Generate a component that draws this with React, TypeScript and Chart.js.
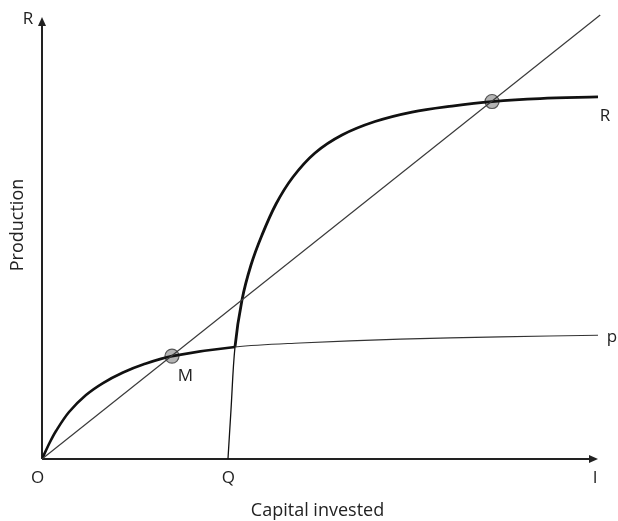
import React, { useEffect, useRef } from "react";
import { Chart, registerables } from "chart.js";

Chart.register(...registerables);

// Data (units: capital invested on x, production on y)
const X_MAX = 100;
const Y_MAX = 80;

const diagX = [0, 100.4];
const diagY = [0, 80];

const pX = [0, 1.44, 2.52, 4.86, 7.91, 10.97, 14.57, 18.17, 23.38, 34.71, 46.4, 64.4, 82.4, 100];
const pY = [0, 3.06, 5.05, 8.47, 11.53, 13.69, 15.59, 17.03, 18.54, 20.18, 20.9, 21.6, 22.0, 22.3];

const rX = [33.45, 33.99, 34.71, 35.97, 37.59, 39.57, 42.09, 45.14, 49.1, 53.96, 59.89, 66.55, 73.74, 80.94, 89.57, 100];
const rY = [0, 8.83, 20.18, 28.65, 34.95, 40.36, 45.95, 50.81, 55.14, 58.38, 60.81, 62.52, 63.6, 64.41, 64.95, 65.23];

const equilibriumX = [23.38, 80.94];
const equilibriumY = [18.54, 64.41];

const SPLIT_X = 34.71; // where the curves change between thin and thick
const Q_X = 33.45;

const FONT = '"Open Sans", sans-serif';

const toPts = (xs: number[], ys: number[]) => xs.map((x, i) => ({ x, y: ys[i] }));

const axesPlugin = {
  id: "axesPlugin",
  beforeDatasetsDraw(chart: any) {
    const { ctx } = chart;
    const xs = chart.scales.x;
    const ys = chart.scales.y;
    const x0 = xs.getPixelForValue(0);
    const y0 = ys.getPixelForValue(0);
    const xEnd = xs.getPixelForValue(X_MAX);
    const yEnd = ys.getPixelForValue(Y_MAX) + 2;
    ctx.save();
    ctx.strokeStyle = "#222";
    ctx.fillStyle = "#222";
    ctx.lineWidth = 2;
    ctx.beginPath();
    ctx.moveTo(x0, y0);
    ctx.lineTo(x0, yEnd + 6);
    ctx.moveTo(x0, y0);
    ctx.lineTo(xEnd - 6, y0);
    ctx.stroke();
    // arrowheads
    ctx.beginPath();
    ctx.moveTo(x0, yEnd);
    ctx.lineTo(x0 - 4, yEnd + 9);
    ctx.lineTo(x0 + 4, yEnd + 9);
    ctx.closePath();
    ctx.fill();
    ctx.beginPath();
    ctx.moveTo(xEnd, y0);
    ctx.lineTo(xEnd - 9, y0 - 4);
    ctx.lineTo(xEnd - 9, y0 + 4);
    ctx.closePath();
    ctx.fill();
    ctx.restore();
  },
  afterDraw(chart: any) {
    const { ctx } = chart;
    const xs = chart.scales.x;
    const ys = chart.scales.y;
    const x0 = xs.getPixelForValue(0);
    const y0 = ys.getPixelForValue(0);
    const xEnd = xs.getPixelForValue(X_MAX);
    const yEnd = ys.getPixelForValue(Y_MAX);
    ctx.save();
    ctx.fillStyle = "#222";
    ctx.font = `17px ${FONT}`;
    ctx.textAlign = "center";
    ctx.textBaseline = "middle";
    ctx.fillText("R", x0 - 14, yEnd + 4);
    ctx.fillText("O", x0 - 4.5, y0 + 19);
    ctx.fillText("Q", xs.getPixelForValue(Q_X) + 0.5, y0 + 19);
    ctx.fillText("I", xEnd - 3, y0 + 19);
    ctx.fillText("M", xs.getPixelForValue(equilibriumX[0]) + 13.5, ys.getPixelForValue(equilibriumY[0]) + 20);
    ctx.fillText("R", xEnd + 7, ys.getPixelForValue(rY[rY.length - 1]) + 19);
    ctx.fillText("p", xEnd + 14, ys.getPixelForValue(pY[pY.length - 1]) + 2);
    ctx.font = `18px ${FONT}`;
    ctx.fillText("Capital invested", 317.5, y0 + 52);
    ctx.translate(18, 225);
    ctx.rotate(-Math.PI / 2);
    ctx.fillText("Production", 0, 0);
    ctx.restore();
  },
};

export default function App() {
  const ref = useRef<HTMLCanvasElement>(null);
  useEffect(() => {
    if (!ref.current) return;
    const chart = new Chart(ref.current, {
      type: "line",
      data: {
        datasets: [
          {
            data: toPts(diagX, diagY),
            borderColor: "#3a3a3a",
            borderWidth: 1.2,
            pointRadius: 0,
            clip: false,
          } as any,
          {
            data: toPts(pX, pY),
            borderColor: "#111",
            borderWidth: 1,
            pointRadius: 0,
            tension: 0.35,
            segment: {
              borderWidth: (c: any) => (c.p0.parsed.x < SPLIT_X - 0.01 ? 2.6 : 1.1),
              borderColor: (c: any) => (c.p0.parsed.x < SPLIT_X - 0.01 ? "#111" : "#333"),
            },
          } as any,
          {
            data: toPts(rX, rY),
            borderColor: "#111",
            borderWidth: 1,
            pointRadius: 0,
            tension: 0.35,
            segment: {
              borderWidth: (c: any) => (c.p0.parsed.x < SPLIT_X - 0.01 ? 1.3 : 2.8),
            },
          } as any,
          {
            data: toPts(equilibriumX, equilibriumY),
            showLine: false,
            pointRadius: 7,
            pointBackgroundColor: "#b4b4b4",
            pointBorderColor: "#555",
            pointBorderWidth: 1.2,
          } as any,
        ],
      },
      options: {
        responsive: false,
        animation: false,
        events: [],
        layout: { padding: { left: 42, right: 20, top: 15, bottom: 62 } },
        plugins: { legend: { display: false }, tooltip: { enabled: false } },
        scales: {
          x: { type: "linear", min: 0, max: X_MAX, display: false },
          y: { type: "linear", min: 0, max: Y_MAX, display: false },
        },
      },
      plugins: [axesPlugin],
    });
    return () => chart.destroy();
  }, []);
  return (
    <div style={{ position: "fixed", left: 0, top: 0, width: 618, height: 521, background: "#fff" }}>
      <canvas ref={ref} width={618} height={521} />
    </div>
  );
}
